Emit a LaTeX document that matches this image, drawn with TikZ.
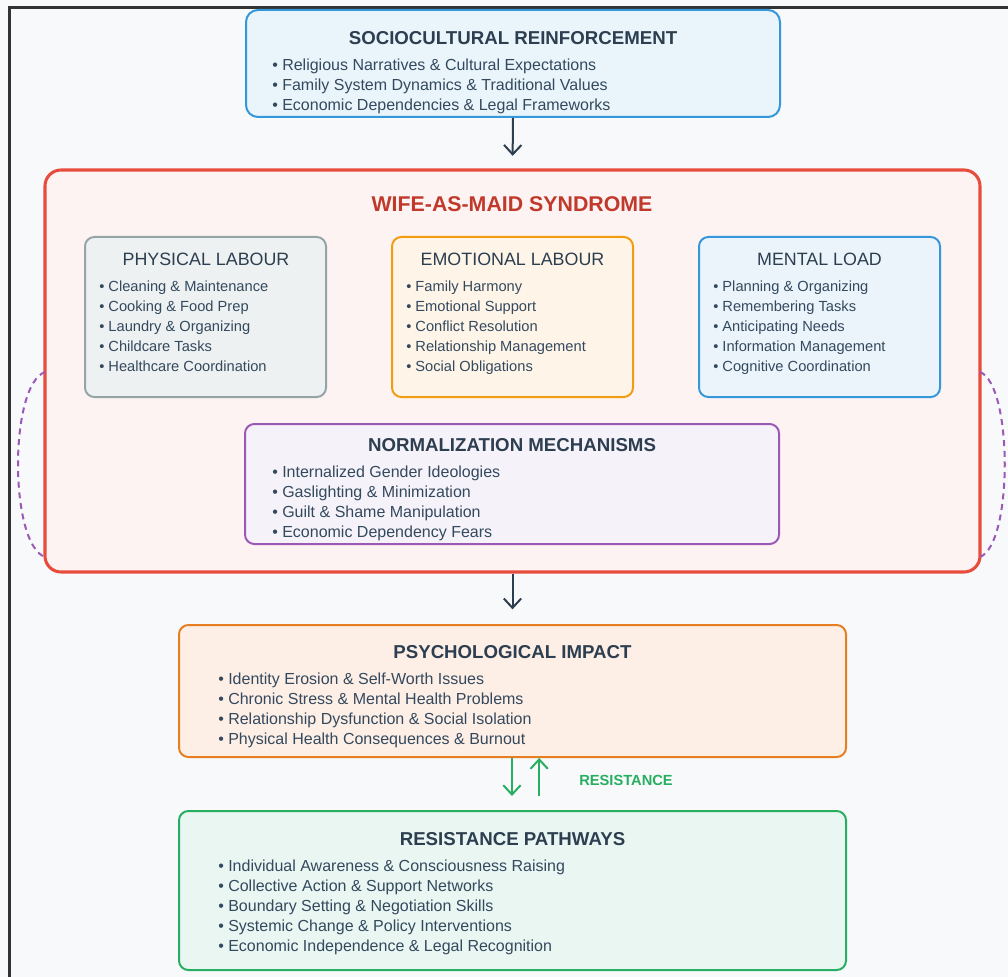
\documentclass[tikz,border=0pt]{standalone}
\usepackage{fontspec}
\setmainfont{Liberation Sans}
\usetikzlibrary{arrows.meta}
\definecolor{bg}{HTML}{F8F9FB}
\definecolor{dark}{HTML}{2C3E50}
\definecolor{txt}{HTML}{34495E}
\definecolor{frameclr}{HTML}{333333}
\definecolor{topb}{HTML}{3498DB}\definecolor{topf}{HTML}{E9F5FB}
\definecolor{redb}{HTML}{E74C3C}\definecolor{redf}{HTML}{FDF3F3}
\definecolor{redt}{HTML}{C0392B}
\definecolor{phyb}{HTML}{95A5A6}\definecolor{phyf}{HTML}{EDF1F2}
\definecolor{emob}{HTML}{F39C12}\definecolor{emof}{HTML}{FEF5E8}
\definecolor{menb}{HTML}{3498DB}\definecolor{menf}{HTML}{EBF4FB}
\definecolor{norb}{HTML}{9B59B6}\definecolor{norf}{HTML}{F5F3F9}
\definecolor{psyb}{HTML}{E67E22}\definecolor{psyf}{HTML}{FDEFE6}
\definecolor{resb}{HTML}{27AE60}\definecolor{resf}{HTML}{E9F6F2}
\newcommand\bulletlist[5][bul]{%
  \foreach \t [count=\i from 0] in {#5}
    \node[#1] (#2\i) at (#3, #4+20*\i) {• \t};}
\tikzset{
  box/.style={draw, line width=1.5pt, rounded corners=7pt, inner sep=0pt},
  txtshift/.style={yshift=-1.1pt},
  bul/.style={txtshift, anchor=base west, inner sep=0pt, font=\fontsize{12}{14}\selectfont, text=txt},
  sbul/.style={txtshift, anchor=base west, inner sep=0pt, font=\fontsize{11}{13}\selectfont, text=txt},
  ttl/.style={txtshift, anchor=base, inner sep=0pt, font=\bfseries\fontsize{14}{16}\selectfont, text=dark},
  subttl/.style={txtshift, anchor=base, inner sep=0pt, font=\fontsize{13.4}{15}\selectfont, text=dark},
  darrow/.style={draw=dark, line width=1.5pt, -{Straight Barb[length=7pt,width=13pt,line width=1.5pt]}},
  garrow/.style={draw=resb, line width=1.5pt, -{Straight Barb[length=7pt,width=13pt,line width=1.5pt]}},
  loopline/.style={draw=norb, line width=1.5pt, dash pattern=on 4.5pt off 3.5pt},
}
\begin{document}
\begin{tikzpicture}[x=0.75pt,y=-0.75pt]
\fill[bg] (0,0) rectangle (1008,977);
\useasboundingbox (0,0) rectangle (1008,977);
\draw[frameclr, line width=1.6pt] (9.5,977) -- (9.5,7.5) -- (1008,7.5);

% top box
\node[box, draw=topb, fill=topf, rounded corners=9pt, minimum width=400.5pt, minimum height=80.25pt] (top) at (513,63.5) {};
\node[ttl] (toptitle) at (513,43) {SOCIOCULTURAL REINFORCEMENT};
\bulletlist{topb}{272}{69}{Religious Narratives \& Cultural Expectations,Family System Dynamics \& Traditional Values,Economic Dependencies \& Legal Frameworks}

% red box
\node[box, draw=redb, fill=redf, line width=2.3pt, rounded corners=12pt, minimum width=701.25pt, minimum height=301.5pt] (red) at (512.5,371) {};
\node[txtshift, anchor=base, inner sep=0pt, font=\bfseries\fontsize{16}{18}\selectfont, text=redt] (redtitle) at (512,210) {WIFE-AS-MAID SYNDROME};

% dashed loops
\coordinate (l1) at (45,372); \coordinate (l2) at (45,557);
\coordinate (r1) at (980,372); \coordinate (r2) at (980,557);
\draw[loopline] (l1) .. controls (9,385) and (9,544) .. (l2);
\draw[loopline] (r1) .. controls (1013,385) and (1013,544) .. (r2);

% three inner boxes
\node[box, draw=phyb, fill=phyf, minimum width=180.75pt, minimum height=120pt] (phy) at (205.5,317) {};
\node[subttl] (phytitle) at (206,264) {PHYSICAL LABOUR};
\bulletlist[sbul]{phyb}{99}{290}{Cleaning \& Maintenance,Cooking \& Food Prep,Laundry \& Organizing,Childcare Tasks,Healthcare Coordination}

\node[box, draw=emob, fill=emof, minimum width=180.75pt, minimum height=120pt] (emo) at (512.5,317) {};
\node[subttl] (emotitle) at (512.5,264) {EMOTIONAL LABOUR};
\bulletlist[sbul]{emob}{406}{290}{Family Harmony,Emotional Support,Conflict Resolution,Relationship Management,Social Obligations}

\node[box, draw=menb, fill=menf, minimum width=180.75pt, minimum height=120pt] (men) at (819.5,317) {};
\node[subttl] (mentitle) at (819.5,264) {MENTAL LOAD};
\bulletlist[sbul]{menb}{713}{290}{Planning \& Organizing,Remembering Tasks,Anticipating Needs,Information Management,Cognitive Coordination}

% normalization
\node[box, draw=norb, fill=norf, minimum width=400.5pt, minimum height=90pt] (nor) at (512,484) {};
\node[ttl] (nortitle) at (512,450) {NORMALIZATION MECHANISMS};
\bulletlist{norb}{272}{476}{Internalized Gender Ideologies,Gaslighting \& Minimization,Guilt \& Shame Manipulation,Economic Dependency Fears}

% psychological impact
\node[box, draw=psyb, fill=psyf, minimum width=500.25pt, minimum height=99pt] (psy) at (512.5,691) {};
\node[ttl] (psytitle) at (512.5,657) {PSYCHOLOGICAL IMPACT};
\bulletlist{psyb}{218}{683}{Identity Erosion \& Self-Worth Issues,Chronic Stress \& Mental Health Problems,Relationship Dysfunction \& Social Isolation,Physical Health Consequences \& Burnout}

% resistance
\node[box, draw=resb, fill=resf, minimum width=500.25pt, minimum height=119.25pt] (res) at (512.5,890.5) {};
\node[ttl] (restitle) at (512.5,844) {RESISTANCE PATHWAYS};
\bulletlist{resb}{218}{870}{Individual Awareness \& Consciousness Raising,Collective Action \& Support Networks,Boundary Setting \& Negotiation Skills,Systemic Change \& Policy Interventions,Economic Independence \& Legal Recognition}

% arrows
\draw[darrow, shorten >=9.5pt] (top.south) -- (red.north);
\draw[darrow, shorten >=11pt] (red.south) -- (psy.south |- psy.north);
\draw[garrow, shorten >=10.5pt] ([xshift=-0.4pt]psy.south) -- ([xshift=-0.4pt]res.north);
\draw[garrow, shorten <=10.5pt] ([xshift=20pt]res.north) -- ([xshift=20pt]psy.south);
\node[txtshift, anchor=base, inner sep=0pt, font=\bfseries\fontsize{11}{13}\selectfont, text=resb] (reslabel) at (626,784) {RESISTANCE};
\end{tikzpicture}
\end{document}
